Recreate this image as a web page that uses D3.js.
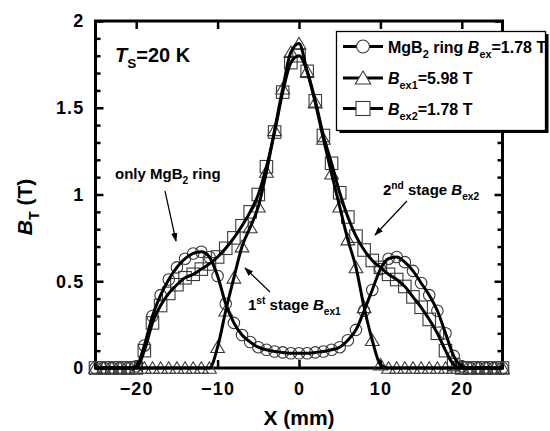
<!DOCTYPE html>
<html><head><meta charset="utf-8">
<script src="https://cdn.jsdelivr.net/npm/d3@7/dist/d3.min.js"></script>
<style>
body{margin:0;background:#fff;}
text{font-family:"Liberation Sans",Arial,sans-serif;font-weight:bold;fill:#000;}
</style></head><body>
<svg id="chart" width="550" height="431"></svg>
<script>
// Trapped field profile across the bulk, measured at 1 mm steps
const positionsMm = [-25,-24,-23,-22,-21,-20,-19,-18,-17,-16,-15,-14,-13,-12,-11,-10,-9,-8,-7,-6,-5,-4,-3,-2,-1,0,
  1,2,3,4,5,6,7,8,9,10,11,12,13,14,15,16,17,18,19,20,21,22,23,24,25];
// MgB2 ring only, Bex = 1.78 T
const ringB = [0,0,0,0,0,0.01,0.13,0.30,0.42,0.51,0.58,0.63,0.66,0.67,0.64,0.53,0.37,0.26,0.19,0.15,0.12,0.105,0.095,0.09,0.085,0.085,
  0.085,0.09,0.095,0.105,0.12,0.16,0.22,0.33,0.45,0.57,0.63,0.64,0.61,0.56,0.49,0.42,0.33,0.20,0.07,0.01,0,0,0,0,0];
// first stage, Bex1 = 5.98 T
const stage1B = [0,0,0,0,0,0,0,0,0,0,0,0,0,0,0,0.12,0.33,0.52,0.70,0.81,0.93,1.13,1.37,1.61,1.82,1.87,
  1.71,1.53,1.32,1.12,0.93,0.74,0.58,0.35,0.16,0.02,0,0,0,0,0,0,0,0,0,0,0,0,0,0,0];
// second stage, Bex2 = 1.78 T
const stage2B = [0,0,0,0,0,0,0.10,0.26,0.36,0.43,0.48,0.52,0.54,0.57,0.60,0.64,0.69,0.75,0.82,0.90,1.00,1.16,1.36,1.59,1.76,1.80,
  1.71,1.54,1.34,1.18,1.01,0.87,0.76,0.68,0.62,0.58,0.54,0.51,0.47,0.41,0.35,0.28,0.20,0.10,0.02,0,0,0,0,0,0];

const xTicks = [-20,-10,0,10,20];
const yTicks = [0,0.5,1,1.5,2];
const yMinorTicks = [0.1,0.2,0.3,0.4,0.6,0.7,0.8,0.9,1.1,1.2,1.3,1.4,1.6,1.7,1.8,1.9];

const svg = d3.select("#chart");
const W = 550, H = 431;
const plot = {left: 95.5, right: 502.5, top: 21, bottom: 368};

const x = d3.scaleLinear().domain([-25, 25]).range([plot.left, plot.right]);
const y = d3.scaleLinear().domain([0, 2]).range([plot.bottom, plot.top]);

svg.append("rect").attr("width", W).attr("height", H).attr("fill", "#fff");

// ---- axes (ticks point inward on all four sides) ----
function styleAxis(g) {
  g.select(".domain").remove();
  g.selectAll(".tick line").attr("stroke", "#000").attr("stroke-width", 2.5);
  g.selectAll(".tick text").attr("fill", "#000")
    .style("font-size", "18px").style("letter-spacing", "1.2px");
}

svg.append("g").attr("transform", `translate(${plot.left},0)`)
  .call(d3.axisLeft(y).tickValues(yTicks).tickSizeInner(-8).tickSizeOuter(0).tickPadding(11)
    .tickFormat(d3.format("~g")))
  .call(styleAxis);
svg.append("g").attr("transform", `translate(${plot.left},0)`)
  .call(d3.axisLeft(y).tickValues(yMinorTicks).tickSizeInner(-5).tickSizeOuter(0).tickFormat(""))
  .call(styleAxis);
svg.append("g").attr("transform", `translate(${plot.right},0)`)
  .call(d3.axisRight(y).tickValues(yTicks).tickSizeInner(-8).tickSizeOuter(0).tickFormat(""))
  .call(styleAxis);
svg.append("g").attr("transform", `translate(${plot.right},0)`)
  .call(d3.axisRight(y).tickValues(yMinorTicks).tickSizeInner(-5).tickSizeOuter(0).tickFormat(""))
  .call(styleAxis);
svg.append("g").attr("transform", `translate(0,${plot.bottom})`)
  .call(d3.axisBottom(x).tickValues(xTicks).tickSizeInner(-8).tickSizeOuter(0).tickPadding(14)
    .tickFormat(d3.format("d")))
  .call(styleAxis);
svg.append("g").attr("transform", `translate(0,${plot.top})`)
  .call(d3.axisTop(x).tickValues(xTicks).tickSizeInner(-8).tickSizeOuter(0).tickFormat(""))
  .call(styleAxis);

svg.append("rect")
  .attr("x", plot.left).attr("y", plot.top)
  .attr("width", plot.right - plot.left).attr("height", plot.bottom - plot.top)
  .attr("fill", "none").attr("stroke", "#000").attr("stroke-width", 3);

// ---- series ----
const series = [
  {values: ringB, shape: "circle"},
  {values: stage1B, shape: "triangle"},
  {values: stage2B, shape: "square"}
];
const markerColor = "#3a3a3a";

function drawMarker(g, shape, cx, cy, s) {
  if (shape === "circle") {
    g.append("circle").attr("cx", cx).attr("cy", cy).attr("r", s * 0.46);
  } else if (shape === "square") {
    const h = s * 0.5;
    g.append("rect").attr("x", cx - h).attr("y", cy - h).attr("width", 2 * h).attr("height", 2 * h);
  } else {
    const w = s * 0.55, hh = s * 0.5;
    g.append("path").attr("d", `M${cx},${cy - hh}L${cx + w},${cy + hh * 0.85}L${cx - w},${cy + hh * 0.85}Z`);
  }
}

const markerLayer = svg.append("g").attr("fill", "none").attr("stroke", markerColor).attr("stroke-width", 1.1);
series.forEach(s => {
  const g = markerLayer.append("g");
  positionsMm.forEach((p, i) => drawMarker(g, s.shape, x(p), y(s.values[i]), 12.5));
});

const line = d3.line()
  .x((d, i) => x(positionsMm[i]))
  .y(d => y(d))
  .curve(d3.curveMonotoneX);

series.forEach(s => {
  svg.append("path").datum(s.values)
    .attr("d", line)
    .attr("fill", "none").attr("stroke", "#000")
    .attr("stroke-width", 3).attr("stroke-linejoin", "round");
});

// ---- rich text helper: parts of [text, style] ----
function rich(parent, px, py, size, parts, anchor) {
  const t = parent.append("text").attr("x", px).attr("y", py)
    .style("font-size", size + "px");
  if (anchor) t.attr("text-anchor", anchor);
  let shift = 0;
  parts.forEach(([str, kind]) => {
    const sp = t.append("tspan").text(str);
    let target = 0;
    if (kind === "sub") { sp.style("font-size", (size * 0.68) + "px"); target = size * 0.32; }
    if (kind === "sup") { sp.style("font-size", (size * 0.68) + "px"); target = -size * 0.38; }
    if (kind === "it") sp.style("font-style", "italic");
    if (target - shift !== 0) sp.attr("dy", target - shift);
    shift = target;
  });
  return t;
}

// axis titles
svg.append("text").attr("x", 299).attr("y", 425).attr("text-anchor", "middle")
  .style("font-size", "21px").text("X (mm)");
const yTitle = svg.append("g").attr("transform", "translate(32,207) rotate(-90)");
rich(yTitle, 0, 0, 21, [["B", "it"], ["T", "sub"], [" (T)", ""]], "middle");

// temperature note
rich(svg, 115, 62, 20, [["T", "it"], ["S", "sub"], ["=20 K", ""]]);

// annotations with arrows
svg.append("defs").append("marker")
  .attr("id", "head").attr("viewBox", "0 0 10 10").attr("refX", 9).attr("refY", 5)
  .attr("markerWidth", 9).attr("markerHeight", 9).attr("markerUnits", "userSpaceOnUse")
  .attr("orient", "auto")
  .append("path").attr("d", "M0,1.5L10,5L0,8.5Z").attr("fill", "#000");

function arrow(x1, y1, x2, y2) {
  svg.append("line").attr("x1", x1).attr("y1", y1).attr("x2", x2).attr("y2", y2)
    .attr("stroke", "#000").attr("stroke-width", 1.2).attr("marker-end", "url(#head)");
}

rich(svg, 115, 179, 15, [["only MgB", ""], ["2", "sub"], [" ring", ""]]);
arrow(165, 191, 176, 241);

rich(svg, 383, 195, 15, [["2", ""], ["nd", "sup"], [" stage ", ""], ["B", "it"], ["ex2", "sub"]]);
arrow(407, 201, 375, 235);

rich(svg, 248, 310, 15, [["1", ""], ["st", "sup"], [" stage ", ""], ["B", "it"], ["ex1", "sub"]]);
arrow(270, 292, 245, 268);

// ---- legend ----
const lg = svg.append("g");
lg.append("rect").attr("x", 339.5).attr("y", 34).attr("width", 209).attr("height", 99).attr("fill", "#000");
lg.append("rect").attr("x", 336.5).attr("y", 31.5).attr("width", 209).attr("height", 99)
  .attr("fill", "#fff").attr("stroke", "#000").attr("stroke-width", 1.3);

const legendRows = [
  {shape: "circle", y: 46.5, parts: [["MgB", ""], ["2", "sub"], [" ring ", ""], ["B", "it"], ["ex", "sub"], ["=1.78 T", ""]]},
  {shape: "triangle", y: 78, parts: [["B", "it"], ["ex1", "sub"], ["=5.98 T", ""]]},
  {shape: "square", y: 108.5, parts: [["B", "it"], ["ex2", "sub"], ["=1.78 T", ""]]}
];
legendRows.forEach(r => {
  lg.append("line").attr("x1", 343).attr("x2", 383).attr("y1", r.y).attr("y2", r.y)
    .attr("stroke", "#000").attr("stroke-width", 3);
  const mg = lg.append("g").attr("fill", "#fff").attr("stroke", markerColor).attr("stroke-width", 1.1);
  drawMarker(mg, r.shape, 363, r.y, 14);
  rich(lg, 388, r.y + 6, 16, r.parts);
});
</script>
</body></html>
